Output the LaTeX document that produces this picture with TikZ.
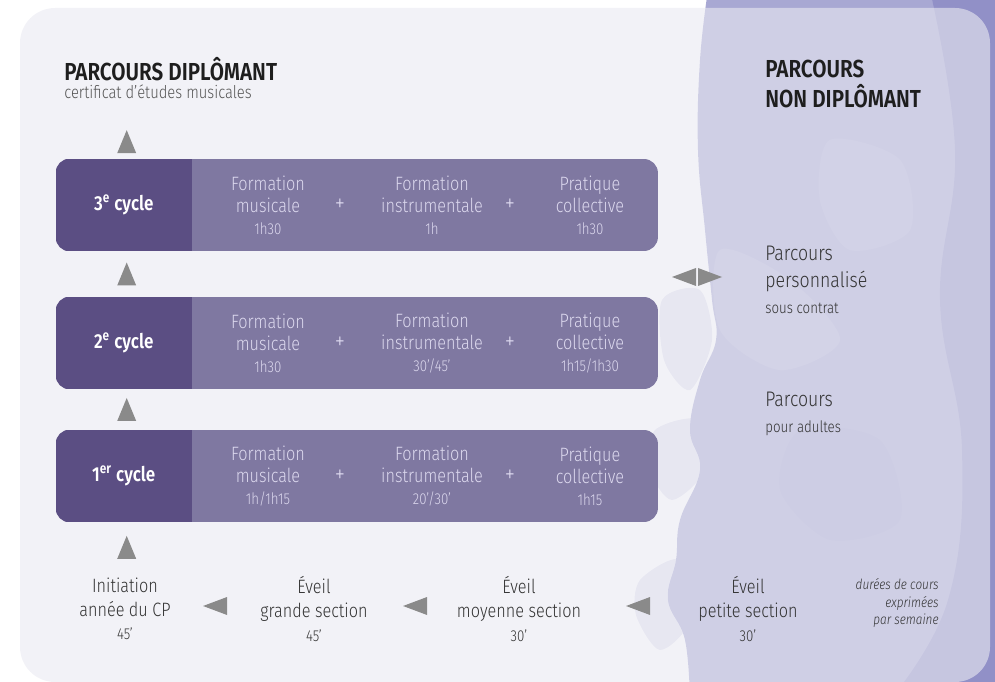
\documentclass[tikz,border=0pt]{standalone}
\usepackage{fontspec}
\setmainfont{Fira Sans}[UprightFont={* Light}, ItalicFont={* Light Italic}, BoldFont={* SemiBold}, FakeStretch=0.84]
\usepackage{xcolor}
\usetikzlibrary{calc, positioning}

\definecolor{cycdark}{HTML}{5B4E83}
\definecolor{cyclight}{HTML}{7F78A1}
\definecolor{lavtext}{HTML}{DCD8EE}
\definecolor{titletext}{HTML}{1E1E1E}
\definecolor{bodytext}{HTML}{333333}
\definecolor{subtext}{HTML}{555555}
\definecolor{arrowgray}{HTML}{8A8A8A}
\definecolor{wash}{HTML}{A8A8D3}
\definecolor{washdark}{HTML}{7F7DBE}
\definecolor{panel}{HTML}{EAEAF2}

\newcommand{\uptri}[1]{\fill[arrowgray] ($(#1)+(-9.5,11.5)$) -- ($(#1)+(9.5,11.5)$) -- ($(#1)+(0,-11.5)$) -- cycle;}
\newcommand{\lefttri}[1]{\fill[arrowgray] ($(#1)+(12,-9)$) -- ($(#1)+(12,9)$) -- ($(#1)+(-12,0)$) -- cycle;}
\newcommand{\righttri}[1]{\fill[arrowgray] ($(#1)+(-12,-9)$) -- ($(#1)+(-12,9)$) -- ($(#1)+(12,0)$) -- cycle;}
\newcommand{\dur}[1]{{\fontsize{9}{11}\selectfont #1}}

\tikzset{
  rowbox/.style={fill=cyclight, rounded corners=0.28cm, minimum width=12.04cm, minimum height=1.84cm, inner sep=0pt},
  cyclelab/.style={text=white, font=\fontsize{11.5}{13}\selectfont\bfseries},
  course/.style={text=lavtext, align=center, font=\fontsize{11}{12.5}\selectfont},
  plus/.style={text=lavtext, font=\fontsize{14}{14}\selectfont},
  stage/.style={text=bodytext, align=center, font=\fontsize{11}{13.5}\selectfont},
  heading/.style={text=titletext, align=left, anchor=west, inner sep=0pt, font=\fontsize{14}{17.5}\selectfont\bfseries},
  offer/.style={text=bodytext, align=left, anchor=west, inner sep=0pt, font=\fontsize{12}{15}\selectfont},
}

\begin{document}
\begin{tikzpicture}[x=0.02cm, y=-0.02cm]
\useasboundingbox (0,0) rectangle (995,682);
\clip (0,0) rectangle (995,682);

% watercolour wash on the right
\fill[wash] plot[smooth, tension=0.7] coordinates {(708,-10) (700,60) (698,150) (705,230) (712,300) (716,340) (700,380) (690,430) (700,470) (680,520) (676,560) (668,600) (685,640) (690,700)} -- (1010,700) -- (1010,-10) -- cycle;
\fill[wash, opacity=0.3] plot[smooth cycle] coordinates {(662,300) (700,290) (712,340) (690,390) (664,360)};
\fill[wash, opacity=0.3] plot[smooth cycle] coordinates {(655,430) (700,420) (705,470) (672,500) (650,470)};
\fill[wash, opacity=0.3] plot[smooth cycle] coordinates {(640,580) (680,560) (690,620) (660,650) (636,615)};
\fill[washdark, opacity=0.55] plot[smooth, tension=0.7] coordinates {(930,-10) (955,150) (940,300) (962,450) (948,600) (890,700)} -- (1010,700) -- (1010,-10) -- cycle;
\fill[white, opacity=0.12] plot[smooth cycle] coordinates {(720,250) (790,280) (840,340) (780,370) (720,330)};
\fill[washdark, opacity=0.12] plot[smooth cycle] coordinates {(800,430) (880,440) (900,520) (830,540) (780,490)};
\fill[white, opacity=0.1] plot[smooth cycle] coordinates {(830,140) (900,160) (910,230) (850,250) (820,200)};

% panel
\fill[panel, opacity=0.6, rounded corners=0.7cm] (20,8) rectangle (990,682);

% headings
\node[heading] (dipl) at (64,69) {PARCOURS DIPLÔMANT};
\node[text=subtext, anchor=west, inner sep=0pt, font=\fontsize{10}{12}\selectfont] (cert) at (64,92) {certificat d’études musicales};
\node[heading] (nondipl) at (765,84) {PARCOURS\\NON DIPLÔMANT};

% 3e cycle
\node[rowbox] (row3) at (357,205) {};
\begin{scope}
\clip[rounded corners=0.28cm] (row3.south west) rectangle (row3.north east);
\fill[cycdark] (row3.south west) rectangle ($(row3.north west)+(136,0)$);
\end{scope}
\node[cyclelab] (lab3) at ($(row3.west)+(68,0)$) {3\textsuperscript{e} cycle};
\node[course] (fm3) at ($(row3)+(-89,0)$) {Formation\\musicale\\\dur{1h30}};
\node[plus] (p31) at ($(row3)+(-17,0)$) {+};
\node[course] (fi3) at ($(row3)+(75,0)$) {Formation\\instrumentale\\\dur{1h}};
\node[plus] (p32) at ($(row3)+(153,0)$) {+};
\node[course] (pc3) at ($(row3)+(233,0)$) {Pratique\\collective\\\dur{1h30}};

% 2e cycle
\node[rowbox] (row2) at (357,343) {};
\begin{scope}
\clip[rounded corners=0.28cm] (row2.south west) rectangle (row2.north east);
\fill[cycdark] (row2.south west) rectangle ($(row2.north west)+(136,0)$);
\end{scope}
\node[cyclelab] (lab2) at ($(row2.west)+(68,0)$) {2\textsuperscript{e} cycle};
\node[course] (fm2) at ($(row2)+(-89,0)$) {Formation\\musicale\\\dur{1h30}};
\node[plus] (p21) at ($(row2)+(-17,0)$) {+};
\node[course] (fi2) at ($(row2)+(75,0)$) {Formation\\instrumentale\\\dur{30’/45’}};
\node[plus] (p22) at ($(row2)+(153,0)$) {+};
\node[course] (pc2) at ($(row2)+(233,0)$) {Pratique\\collective\\\dur{1h15/1h30}};

% 1er cycle
\node[rowbox] (row1) at (357,476) {};
\begin{scope}
\clip[rounded corners=0.28cm] (row1.south west) rectangle (row1.north east);
\fill[cycdark] (row1.south west) rectangle ($(row1.north west)+(136,0)$);
\end{scope}
\node[cyclelab] (lab1) at ($(row1.west)+(68,0)$) {1\textsuperscript{er} cycle};
\node[course] (fm1) at ($(row1)+(-89,0)$) {Formation\\musicale\\\dur{1h/1h15}};
\node[plus] (p11) at ($(row1)+(-17,0)$) {+};
\node[course] (fi1) at ($(row1)+(75,0)$) {Formation\\instrumentale\\\dur{20’/30’}};
\node[plus] (p12) at ($(row1)+(153,0)$) {+};
\node[course] (pc1) at ($(row1)+(233,0)$) {Pratique\\collective\\\dur{1h15}};

% early stages
\node[stage] (ini) at (125,609) {Initiation\\année du CP\\\dur{45’}};
\node[stage] (gs) at (314,609) {Éveil\\grande section\\\dur{45’}};
\node[stage] (ms) at (519,609) {Éveil\\moyenne section\\\dur{30’}};
\node[stage] (ps) at (748,609) {Éveil\\petite section\\\dur{30’}};
\node[text=bodytext, align=right, anchor=east, inner sep=0pt, font=\fontsize{8}{10}\selectfont\itshape] (note) at (939,603) {durées de cours\\exprimées\\par semaine};

% non diploma paths
\node[offer] (perso) at (765,280) {Parcours\\personnalisé\\\dur{sous contrat}};
\node[offer] (adult) at (765,414) {Parcours\\\dur{pour adultes}};

% arrow marks
\coordinate (up0) at ($(row3.north west)+(71,-17)$);
\coordinate (up1) at ($(row3.south west)!0.5!(row2.north west)+(71,0)$);
\coordinate (up2) at ($(row2.south west)!0.5!(row1.north west)+(71,0)$);
\coordinate (up3) at ($(row1.south west)+(71,25)$);
\uptri{up0}
\uptri{up1}
\uptri{up2}
\uptri{up3}
\coordinate (lt1) at (215,606);
\coordinate (lt2) at (415,606);
\coordinate (lt3) at (638,606);
\lefttri{lt1}
\lefttri{lt2}
\lefttri{lt3}
\coordinate (dbl) at (697,277);
\lefttri{$(dbl)+(-13,0)$}
\righttri{$(dbl)+(13,0)$}
\end{tikzpicture}
\end{document}
